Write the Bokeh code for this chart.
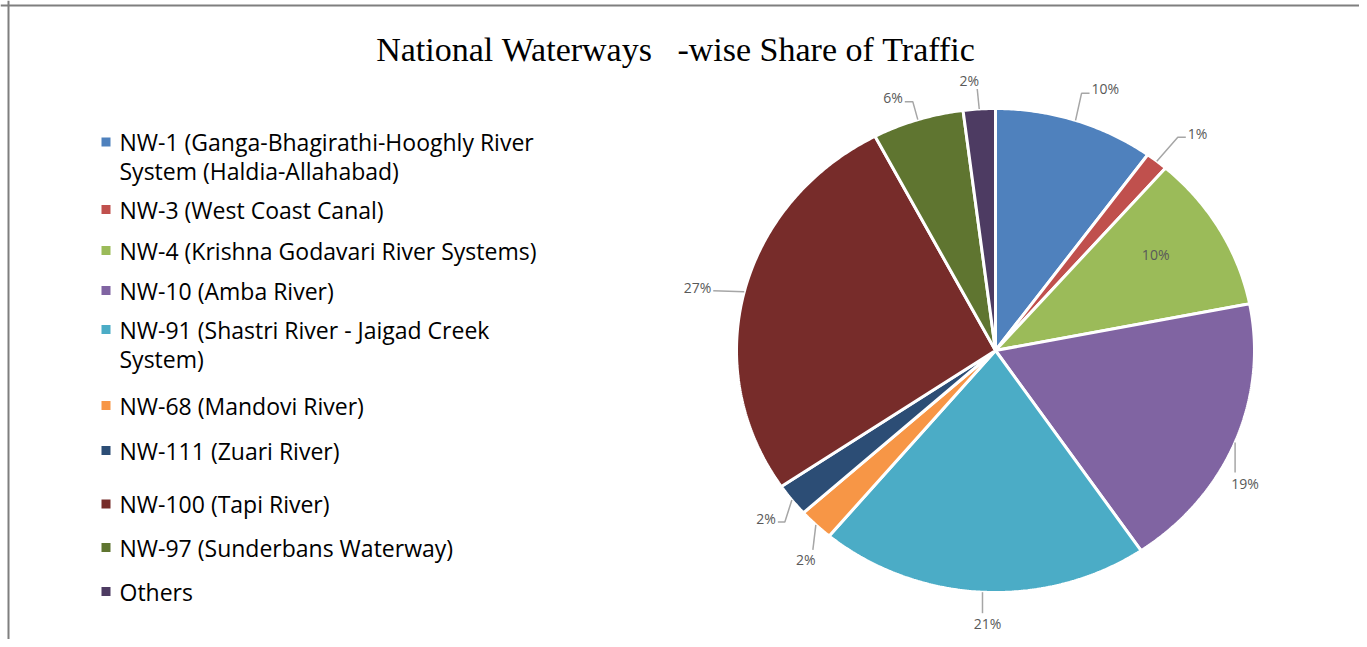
import math
import textwrap
from bokeh.plotting import figure
from bokeh.models import Range1d, Span
from bokeh.core.properties import value
from bokeh.embed import file_html
from bokeh.resources import INLINE

# ---------------- data ----------------
title_text = "National Waterways   -wise Share of Traffic"
categories = [
    "NW-1 (Ganga-Bhagirathi-Hooghly River System (Haldia-Allahabad)",
    "NW-3 (West Coast Canal)",
    "NW-4 (Krishna Godavari River Systems)",
    "NW-10 (Amba River)",
    "NW-91 (Shastri River - Jaigad Creek System)",
    "NW-68 (Mandovi River)",
    "NW-111 (Zuari River)",
    "NW-100 (Tapi River)",
    "NW-97 (Sunderbans Waterway)",
    "Others",
]
shares = [10.0, 1.4, 10.5, 18.6, 20.6, 2.2, 2.2, 26.8, 5.7, 2.0]
share_labels = ["10%", "1%", "10%", "19%", "21%", "2%", "2%", "27%", "6%", "2%"]
colors = ["#4F81BD", "#C0504D", "#9BBB59", "#8064A2", "#4BACC6",
          "#F79646", "#2C4D75", "#772C2A", "#5F7530", "#4D3B62"]

# ---------------- layout ----------------
W, H = 1359, 639
OX, OY = 0, 0


def X(px):
    return px - OX


def Y(py):
    return py - OY


CX, CY = X(995), Y(350)
RX, RY = 259, 242

# leader: (elbow offset, end offset, text offset, align) relative to the slice's outer mid point
label_layout = [
    ((6, -27), (14, -27), (16, -32), "left"),
    ((21, -24), (29, -24), (31, -28), "left"),
    (None, None, (-64, 25), "center"),
    ((0, 30), (0, 30), (10, 41), "center"),
    ((0, 21), (0, 21), (5, 31), "center"),
    ((-3, 25), (-3, 25), (-10, 35), "center"),
    ((-7, 22), (-14, 22), (-16, 18), "right"),
    ((-31, -1), (-31, -1), (-33, -4), "right"),
    ((-5, -18), (-13, -18), (-15, -22), "right"),
    ((-2, -20), (-2, -20), (-10, -28), "center"),
]

legend_rows_y = [141.5, 209, 250, 290, 329, 405, 450, 503.5, 547, 591]
LEG_SQ_X = 105.5
LEG_TX_X = 119
LEG_LINE_H = 29

p = figure(width=W, height=H, output_backend="svg", toolbar_location=None,
           x_range=Range1d(0, W), y_range=Range1d(H, 0),
           min_border=0, outline_line_color=None)
p.xaxis.visible = False
p.yaxis.visible = False
p.grid.visible = False
p.background_fill_color = "white"
p.border_fill_color = "white"

# frame lines (top and left)
p.add_layout(Span(location=Y(5), dimension="width", line_color="#7f7f7f", line_width=2))
p.add_layout(Span(location=X(8), dimension="height", line_color="#7f7f7f", line_width=2))

# title (keep the repeated spaces visible)
p.text(x=[X(675)], y=[Y(49)], text=[title_text.replace(" ", "\u00a0")],
       text_font=value("Liberation Serif"),
       text_font_size="34px", text_color="#000000", text_align="center",
       text_baseline="alphabetic")

# pie slices
total = sum(shares)
xs, ys = [], []
mids = []
cum = 0.0
for v in shares:
    a0 = cum / total * 2 * math.pi
    cum += v
    a1 = cum / total * 2 * math.pi
    n = max(4, int((a1 - a0) / math.radians(0.5)))
    px = [CX]
    py = [CY]
    for k in range(n + 1):
        a = a0 + (a1 - a0) * k / n
        px.append(CX + RX * math.sin(a))
        py.append(CY - RY * math.cos(a))
    xs.append(px)
    ys.append(py)
    mids.append((a0 + a1) / 2)

p.patches(xs=xs, ys=ys, fill_color=colors, line_color="white", line_width=3)

# data labels
lx, ly = [], []
tx, ty, tt, ta = [], [], [], []
for i, m in enumerate(mids):
    ex = CX + RX * math.sin(m)
    ey = CY - RY * math.cos(m)
    e1, e2, toff, align = label_layout[i]
    if e1 is not None:
        lx.append([ex, ex + e1[0], ex + e2[0]])
        ly.append([ey, ey + e1[1], ey + e2[1]])
    tx.append(ex + toff[0])
    ty.append(ey + toff[1])
    tt.append(share_labels[i])
    ta.append(align)

p.multi_line(xs=lx, ys=ly, line_color="#a6a6a6", line_width=1.5)
for i in range(len(tt)):
    p.text(x=[tx[i]], y=[ty[i]], text=[tt[i]], text_font=value("Open Sans"),
           text_font_size="14px", text_color="#595959", text_align=ta[i],
           text_baseline="middle")

# legend
sq_x, sq_y = [], []
lt_x, lt_y, lt_t = [], [], []
for i, name in enumerate(categories):
    ry = Y(legend_rows_y[i])
    sq_x.append(X(LEG_SQ_X))
    sq_y.append(ry)
    for j, line in enumerate(textwrap.wrap(name, 37)):
        lt_x.append(X(LEG_TX_X))
        lt_y.append(ry + j * LEG_LINE_H)
        lt_t.append(line)

p.scatter(x=sq_x, y=sq_y, marker="square", size=9, fill_color=colors, line_color=None)
p.text(x=lt_x, y=lt_y, text=lt_t, text_font=value("Open Sans"), text_font_size="23px",
       text_color="#000000", text_align="left", text_baseline="middle")

open("out.html", "w").write(file_html(p, INLINE))
